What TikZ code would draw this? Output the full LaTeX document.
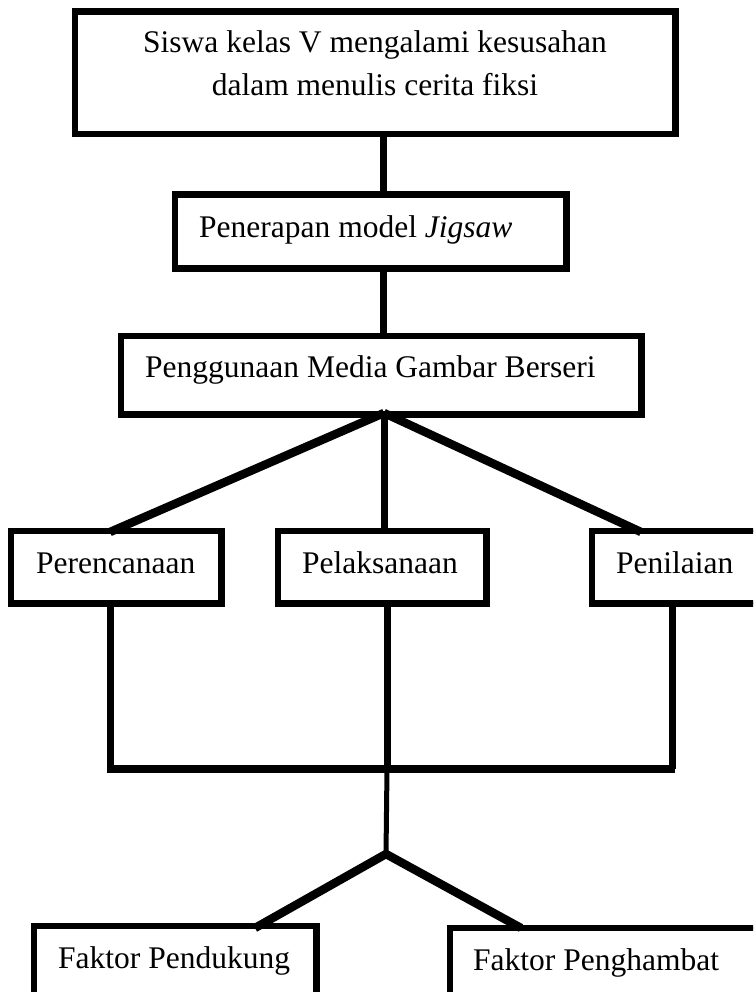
\documentclass[tikz,border=0pt]{standalone}
\usepackage{fontspec}
\setmainfont{Liberation Serif}
\begin{document}
\begin{tikzpicture}[x=1pt,y=-1pt,
  box/.style={draw=black,line width=4.5pt,fill=white,rectangle,inner sep=0pt},
  txt/.style={inner sep=0pt,anchor=base west,font=\fontsize{31.5}{38}\selectfont},
  conn/.style={draw=black,line width=7pt},
  thin/.style={draw=black,line width=5pt},
  diag/.style={draw=black,line width=8.5pt}]
\useasboundingbox (0,0) rectangle (753,992);
\clip (0,0) rectangle (753,992);
% boxes (corner to corner)
\node[box,minimum width=598pt,minimum height=120pt] (b1) at (375,73) {};
\node[box,minimum width=389pt,minimum height=71pt] (b2) at (370.5,231.5) {};
\node[box,minimum width=518pt,minimum height=76pt] (b3) at (381,375) {};
\node[box,minimum width=208pt,minimum height=70pt] (p1) at (116,567) {};
\node[box,minimum width=206pt,minimum height=70pt] (p2) at (382,567) {};
\node[box,minimum width=200pt,minimum height=70pt] (p3) at (693,567) {};
\node[box,minimum width=280pt,minimum height=120pt] (f1) at (175,987) {};
\node[box,minimum width=330pt,minimum height=120pt] (f2) at (616,989) {};
% texts
\node[txt,anchor=base] (t1a) at (375,53) {Siswa kelas V mengalami kesusahan};
\node[txt,anchor=base] (t1b) at (375,96) {dalam menulis cerita fiksi};
\node[txt] (t2) at (199,237) {Penerapan model \textit{Jigsaw}};
\node[txt] (t3) at (145,377) {Penggunaan Media Gambar Berseri};
\node[txt] (tp1) at (36,573) {Perencanaan};
\node[txt] (tp2) at (302,573) {Pelaksanaan};
\node[txt] (tp3) at (616,573) {Penilaian};
\node[txt] (tf1) at (58,968) {Faktor Pendukung};
\node[txt] (tf2) at (473,970) {Faktor Penghambat};
% helper coordinates
\coordinate (sp) at (383,0);
\coordinate (apex) at (384,413);
\coordinate (l1) at (110,0);
\coordinate (l2) at (387,0);
\coordinate (l3) at (672,0);
\coordinate (hl) at (110,769);
\coordinate (hr) at (672,769);
\coordinate (hm) at (387,769);
\coordinate (fork) at (386,854);
% connectors
\begin{scope}[on background layer/.try]
\end{scope}
\draw[conn] (sp |- b1.south) -- (sp |- b2.north);
\draw[conn] (sp |- b2.south) -- (sp |- b3.north);
\draw[diag] (apex) -- (110,532);
\draw[conn] (apex) -- (384,532);
\draw[diag] (apex) -- (641,532);
\draw[conn] (l1 |- p1.south) -- (hl);
\draw[conn] (l2 |- p2.south) -- (hm);
\draw[conn] (l3 |- p3.south) -- (hr);
\draw[conn,line width=8pt] ([xshift=-3pt]hl) -- ([xshift=3pt]hr);
\draw[thin] (hm) -- (fork);
\draw[diag] (fork) -- (255,928);
\draw[diag] (fork) -- (521,928);
% redraw box borders on top of connector ends
\foreach \n in {b1,b2,b3,p1,p2,p3,f1,f2}{
  \draw[line width=4.5pt] (\n.south west) rectangle (\n.north east);
}
\end{tikzpicture}
\end{document}
